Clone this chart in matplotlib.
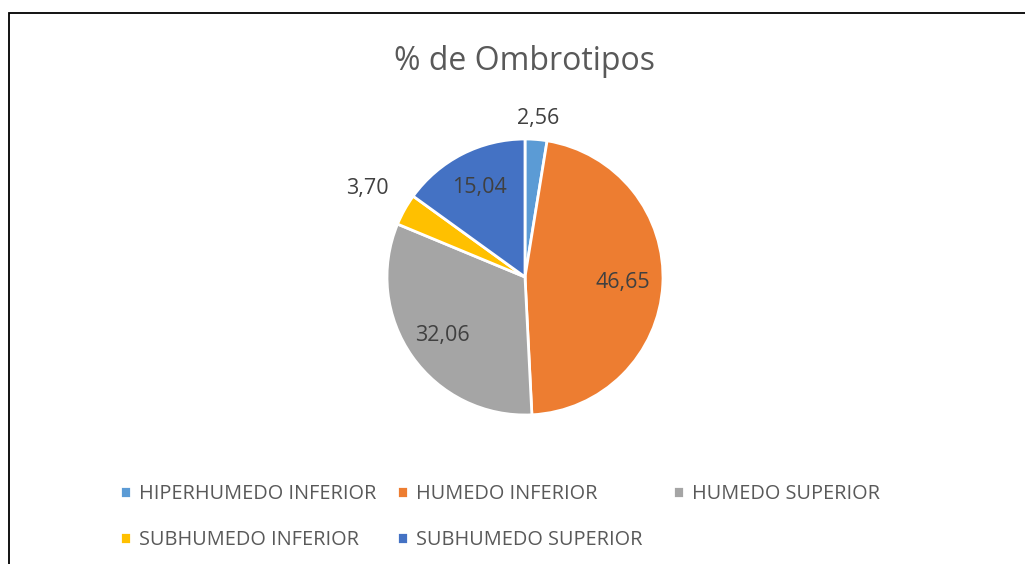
import numpy as np
import matplotlib
matplotlib.use("Agg")
import matplotlib.pyplot as plt
from matplotlib.patches import Rectangle

plt.rcParams['font.family'] = ['Open Sans', 'DejaVu Sans']

# data
categories = ['HIPERHUMEDO INFERIOR', 'HUMEDO INFERIOR', 'HUMEDO SUPERIOR',
              'SUBHUMEDO INFERIOR', 'SUBHUMEDO SUPERIOR']
values = [2.56, 46.65, 32.06, 3.70, 15.04]
colors = ['#5B9BD5', '#ED7D31', '#A5A5A5', '#FFC000', '#4472C4']

# radial distance of each data label (in pie radii), as Excel "best fit" put them
label_dist = [1.15, 0.71, 0.73, 1.31, 0.73]

W, H = 1025, 564
fig = plt.figure(figsize=(W / 100, H / 100), dpi=100)

# pie centre and radius in pixels
cx, cy, r = 525, 277, 138
ax = fig.add_axes([(cx - r) / W, (H - cy - r) / H, 2 * r / W, 2 * r / H])
wedges, _ = ax.pie(values, colors=colors, startangle=90, counterclock=False,
                   radius=1, wedgeprops=dict(edgecolor='white', linewidth=2))
ax.set_xlim(-1, 1)
ax.set_ylim(-1, 1)
ax.set_aspect('equal')
ax.axis('off')

for w, v, d in zip(wedges, values, label_dist):
    ang = np.deg2rad((w.theta1 + w.theta2) / 2)
    ax.text(d * np.cos(ang), d * np.sin(ang), f"{v:.2f}".replace('.', ','),
            ha='center', va='center', fontsize=15.5, color='#404040')

fig.text(cx / W, 1 - 61 / H, '% de Ombrotipos', ha='center', va='center',
         fontsize=23, color='#595959')

# legend, laid out row by row like Excel: three columns
col_x = [120, 397, 673]
rows = [[0, 3], [1, 4], [2]]
for x, idx in zip(col_x, rows):
    fig.legend([wedges[i] for i in idx], [categories[i] for i in idx],
               loc='upper left', bbox_to_anchor=(x / W, 1 - 484 / H),
               frameon=False, fontsize=14.3, labelcolor='#595959',
               handlelength=0.55, handleheight=0.55, handletextpad=0.4,
               labelspacing=1.3, borderpad=0, borderaxespad=0)

# chart frame, cut off at right and bottom
fig.add_artist(Rectangle((8.5 / W, -0.1), 1.2, 1.1 - 13 / H,
                         transform=fig.transFigure, fill=False,
                         edgecolor='black', linewidth=1.3, clip_on=False))

fig.savefig('out.png', dpi=100, facecolor='white')
